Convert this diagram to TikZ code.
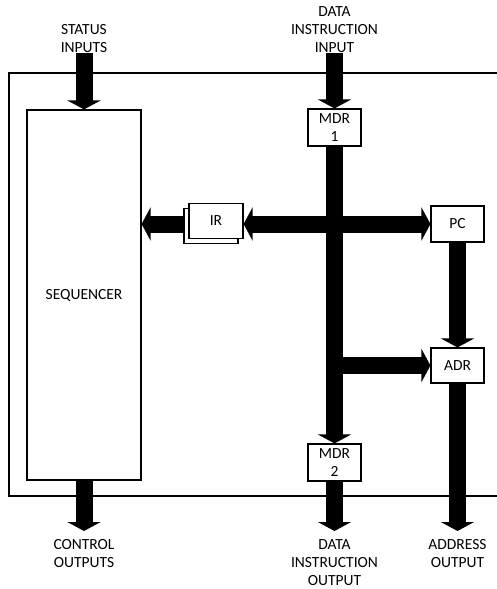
\documentclass[tikz,border=0pt]{standalone}
\usepackage{fontspec}
\setmainfont{Carlito}
\usetikzlibrary{arrows.meta}
\begin{document}
\begin{tikzpicture}[x=1bp,y=-1bp,
    every node/.style={font=\fontsize{15.5bp}{18bp}\selectfont},
    box/.style={draw,line width=1.1bp,fill=white,inner sep=0pt,align=center},
    bus/.style={line width=17bp,-{Triangle[width=33bp,length=9bp]}},
    lbl/.style={align=center,inner sep=0pt}]
    \useasboundingbox (0,0) rectangle (497,589);
    \draw[line width=1.2bp] (497,73) -- (9,73) -- (9,496) -- (497,496);
    % units
    \node[box,minimum width=114bp,minimum height=370bp] (seq) at (84,295) {SEQUENCER};
    \node[box,minimum width=53bp,minimum height=37bp] (mdrone) at (334.5,127.5) {MDR\\1};
    \node[box,minimum width=53bp,minimum height=37bp] (mdrtwo) at (334.5,462.5) {MDR\\2};
    \node[box,minimum width=54bp,minimum height=35bp] (irback) at (211,226) {};
    \node[box,minimum width=54bp,minimum height=35bp] (ir) at (216,221) {IR};
    \node[box,minimum width=53bp,minimum height=36bp] (pc) at (457.5,224) {PC};
    \node[box,minimum width=53bp,minimum height=35bp] (adr) at (457.5,365.5) {ADR};
    % free ends
    \coordinate (stin) at (84,53);
    \coordinate (din) at (334.5,53);
    \coordinate (ctlout) at (84,531);
    \coordinate (dout) at (334.5,531);
    \coordinate (adrout) at (457.5,531);
    % buses
    \draw[bus] (stin) -- (seq.north);
    \draw[bus] (din) -- (mdrone.north);
    \draw[bus] (mdrone.south) -- (mdrtwo.north);
    \draw[bus] (irback.west |- pc.west) -- (seq.east |- pc.west);
    \draw[bus,{Triangle[width=33bp,length=9bp]}-{Triangle[width=33bp,length=9bp]}] (ir.east |- pc.west) -- (pc.west);
    \draw[bus] (mdrone.south |- adr.west) -- (adr.west);
    \draw[bus] (pc.south) -- (adr.north);
    \draw[bus] (adr.south) -- (adrout);
    \draw[bus] (seq.south) -- (ctlout);
    \draw[bus] (mdrtwo.south) -- (dout);
    % labels
    \node[lbl,above] (stlbl) at (stin) {STATUS\\INPUTS};
    \node[lbl,above] (dinlbl) at (din) {DATA\\INSTRUCTION\\INPUT};
    \node[lbl,below=8bp] (ctllbl) at (ctlout) {CONTROL\\OUTPUTS};
    \node[lbl,below=8bp] (doutlbl) at (dout) {DATA\\INSTRUCTION\\OUTPUT};
    \node[lbl,below=8bp] (adrlbl) at (adrout) {ADDRESS\\OUTPUT};
\end{tikzpicture}
\end{document}
